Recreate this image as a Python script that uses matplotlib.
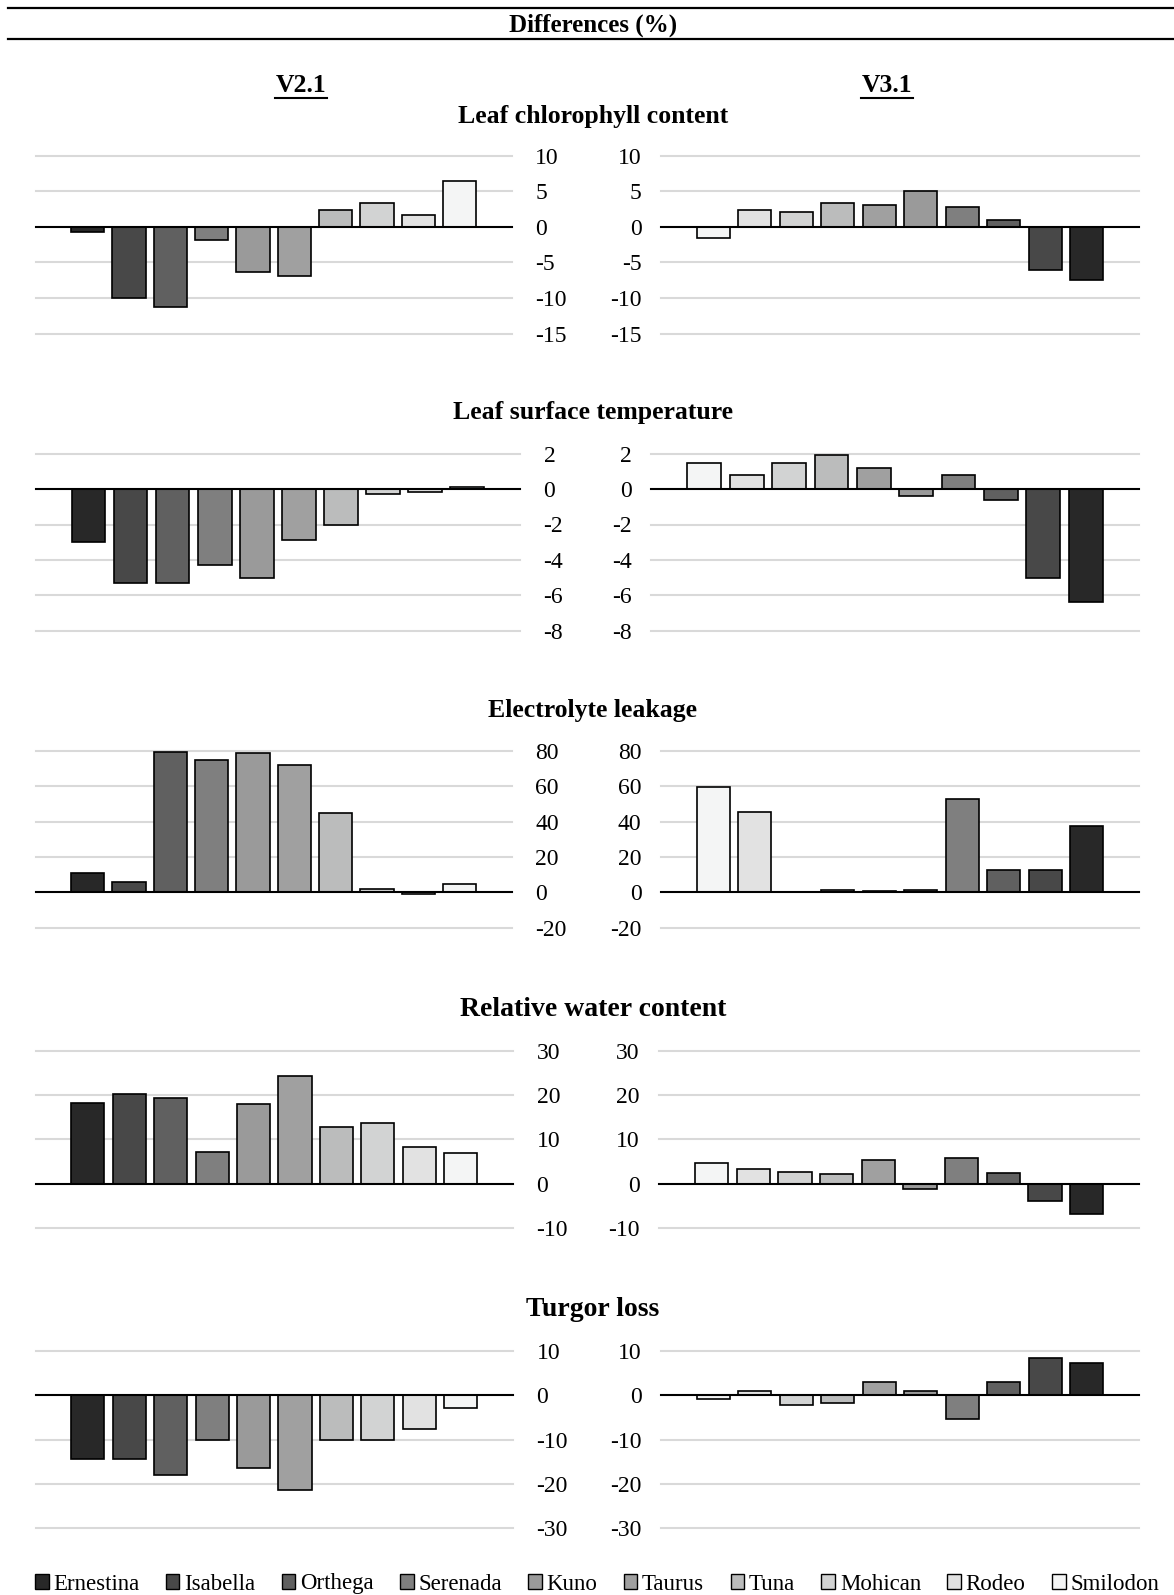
import numpy as np
import matplotlib.pyplot as plt
from matplotlib.lines import Line2D
from matplotlib.patches import Patch

plt.rcParams['font.family'] = ['Liberation Serif', 'DejaVu Serif']

cultivars = ['Ernestina', 'Isabella', 'Orthega', 'Serenada', 'Kuno',
             'Taurus', 'Tuna', 'Mohican', 'Rodeo', 'Smilodon']
colors = ['#282828', '#484848', '#606060', '#7f7f7f', '#9a9a9a',
          '#a0a0a0', '#bbbcbc', '#d2d3d3', '#e2e2e2', '#f4f5f5']

traits = ['Leaf chlorophyll content', 'Leaf surface temperature',
          'Electrolyte leakage', 'Relative water content', 'Turgor loss']

# values in cultivar order (Ernestina ... Smilodon)
chl_v21 = [-0.7, -10.0, -11.2, -1.8, -6.3, -6.9, 2.4, 3.4, 1.6, 6.4]
chl_v31 = [-7.5, -6.0, 0.9, 2.8, 5.0, 3.05, 3.4, 2.1, 2.4, -1.5]
temp_v21 = [-3.0, -5.3, -5.3, -4.3, -5.0, -2.9, -2.0, -0.28, -0.19, 0.1]
temp_v31 = [-6.4, -5.0, -0.6, 0.8, -0.41, 1.18, 1.9, 1.5, 0.79, 1.5]
el_v21 = [10.7, 5.6, 79.1, 75.0, 78.9, 72.1, 44.8, 1.9, -1.1, 4.5]
el_v31 = [37.3, 12.4, 12.8, 52.7, 1.1, 0.9, 1.1, 0.5, 45.4, 59.5]
rwc_v21 = [18.3, 20.2, 19.3, 7.2, 18.1, 24.4, 12.8, 13.7, 8.2, 6.9]
rwc_v31 = [-6.8, -3.9, 2.3, 5.9, -1.2, 5.4, 2.1, 2.6, 3.2, 4.75]
tl_v21 = [-14.5, -14.3, -18.0, -10.15, -16.5, -21.3, -10.0, -10.15, -7.7, -2.9]
tl_v31 = [7.4, 8.4, 3.0, -5.3, 1.05, 2.9, -1.8, -2.2, 1.0, -0.8]

v21 = [chl_v21, temp_v21, el_v21, rwc_v21, tl_v21]
v31 = [chl_v31, temp_v31, el_v31, rwc_v31, tl_v31]
yticks = [[-15, -10, -5, 0, 5, 10], [-8, -6, -4, -2, 0, 2],
          [-20, 0, 20, 40, 60, 80], [-10, 0, 10, 20, 30], [-30, -20, -10, 0, 10]]

W, H = 1174, 1595
fig = plt.figure(figsize=(W / 100, H / 100), dpi=100)


def box(x0, x1, ytop, ybot):
    return [x0 / W, 1 - ybot / H, (x1 - x0) / W, (ybot - ytop) / H]


# panel geometry in pixels: (grid top, grid bottom, left x0, left x1, right x0, right x1)
geom = [(155.6, 333.7, 35.6, 511.7, 661, 1139),
        (453.7, 630.7, 35.6, 520, 651, 1139),
        (750.8, 927.8, 35.6, 511.7, 661, 1139),
        (1050.9, 1227.9, 35.6, 513, 659, 1139),
        (1351, 1528, 35.6, 513, 661, 1139)]
title_y = [116, 413, 710, 1009, 1309]
title_fs = [18.5, 18.5, 18.5, 20, 20]

x = np.arange(len(cultivars))


def draw_panel(ax, vals, ticks, side):
    ax.bar(x, vals, width=0.8, color=colors, edgecolor='black', linewidth=1.2, zorder=3)
    for t in ticks:
        if t == 0:
            continue
        ax.axhline(t, color='#d9d9d9', lw=1.5, zorder=1, clip_on=False)
    ax.axhline(0, color='black', lw=1.5, zorder=4, clip_on=False)
    ax.set_ylim(ticks[0], ticks[-1])
    ax.set_yticks(ticks)
    ax.set_yticklabels([str(t) for t in ticks])
    ax.set_xticks([])
    for s in ax.spines.values():
        s.set_visible(False)
    if side == 'left':
        ax.set_xlim(-1.26, 10.26)
        ax.yaxis.tick_right()
        ax.tick_params(axis='y', length=0, pad=17, labelsize=17)
    else:
        ax.set_xlim(10.26, -1.26)
        ax.tick_params(axis='y', length=0, pad=14, labelsize=17)
    ax.patch.set_alpha(0)


for i in range(5):
    yt, yb, lx0, lx1, rx0, rx1 = geom[i]
    axl = fig.add_axes(box(lx0, lx1, yt, yb))
    draw_panel(axl, v21[i], yticks[i], 'left')
    axr = fig.add_axes(box(rx0, rx1, yt, yb))
    draw_panel(axr, v31[i], yticks[i], 'right')
    fig.text(593 / W, 1 - title_y[i] / H, traits[i], ha='center', va='center',
             fontsize=title_fs[i], fontweight='bold')

# header
fig.text(593 / W, 1 - 25 / H, 'Differences (%)', ha='center', va='center',
         fontsize=18, fontweight='bold')
for yy in [8, 39]:
    fig.add_artist(Line2D([8 / W, 1], [1 - yy / H, 1 - yy / H], color='black', lw=1.6))

for label, xc in [('V2.1', 301), ('V3.1', 887)]:
    fig.text(xc / W, 1 - 86 / H, label, ha='center', va='center',
             fontsize=18.5, fontweight='bold')
    fig.add_artist(Line2D([(xc - 26) / W, (xc + 26) / W], [1 - 98 / H, 1 - 98 / H],
                          color='black', lw=1.5))

handles = [Patch(facecolor=c, edgecolor='black', linewidth=1.0) for c in colors]
fig.legend(handles, cultivars, loc='center', bbox_to_anchor=(597 / W, 1 - 1584 / H),
           ncol=10, frameon=False, fontsize=16.5, handlelength=0.6, handleheight=0.6,
           handletextpad=0.2, columnspacing=1.15, borderpad=0)

fig.savefig('out.png', dpi=100)
